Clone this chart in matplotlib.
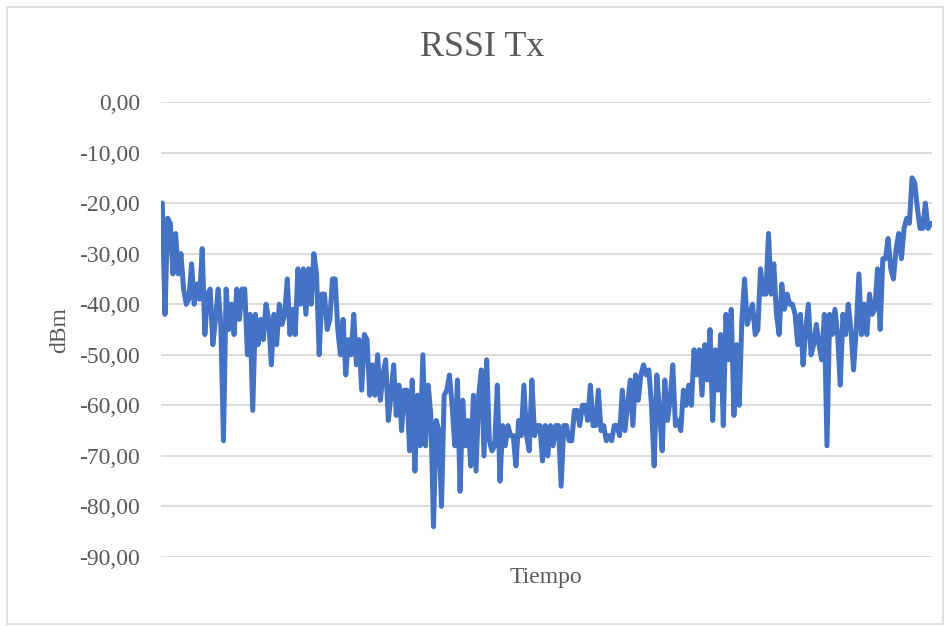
import matplotlib
matplotlib.use('Agg')
import matplotlib.pyplot as plt
from matplotlib.patches import Rectangle
from matplotlib.ticker import FuncFormatter
import numpy as np

# valores (dBm), en orden temporal
rssi_parte1 = [-20, -42, -23, -24, -34, -26, -34, -30, -37, -40, -39, -32, -40, -36,
               -39, -29, -46, -38, -37, -48, -43, -37, -44, -67, -37, -45, -40, -46,
               -37, -43, -37, -37, -50, -42, -61, -42, -48, -43, -47, -40, -43, -52, -42,
               -48, -40, -44, -42, -35, -46, -41, -46, -33, -40, -33, -42, -33, -40, -30,
               -34, -50, -38, -38, -45, -43, -35, -35, -45, -50, -43, -54, -47]
rssi_parte2 = [-50, -42, -52, -47, -57, -46, -47, -58, -52, -58, -50, -59, -54, -51, -63,
               -58, -52, -62, -56, -65, -57, -57, -69, -55, -73, -58, -68, -50, -68, -56,
               -62, -84, -63, -65, -80, -58, -57, -54, -60, -68, -55, -77, -59, -68, -63,
               -72, -58, -73, -58, -53, -70, -51, -67, -69, -68, -56, -75, -64, -68, -64,
               -66, -66, -72, -63, -66, -56, -66, -69, -55]
rssi_parte3 = [-66, -64, -64, -71, -64, -70, -64, -68, -64, -64, -76, -64, -64, -67, -67,
               -61, -61, -64, -60, -60, -63, -56, -64, -64, -57, -65, -64, -67, -66, -67,
               -64, -64, -66, -57, -65, -60, -55, -64, -54, -59, -54, -52, -54, -53, -60,
               -72, -54, -61, -69, -55, -63, -59, -52, -64, -63, -65, -57, -60, -56, -60,
               -49, -54, -49, -58, -48, -55, -45]
rssi_parte4 = [-63, -49, -57, -46, -64, -42, -51, -41, -62, -48, -60, -43, -35, -44, -42,
               -40, -46, -45, -33, -38, -38, -26, -38, -32, -42, -46, -36, -41, -38, -40,
               -40, -42, -48, -42, -52, -45, -40, -50, -48, -44, -48, -51, -42, -68, -42,
               -46, -41, -46, -56, -42, -46, -40, -45, -53, -45, -34, -46, -40, -46, -38,
               -42, -41, -33, -45, -31, -31, -27, -33, -35, -29, -26, -31, -25, -23, -24,
               -15, -16, -21, -25, -25, -20, -25, -24]

y_ticks = [0, -10, -20, -30, -40, -50, -60, -70, -80, -90]

rssi = np.array(rssi_parte1 + rssi_parte2 + rssi_parte3 + rssi_parte4, dtype=float)
tiempo = np.arange(len(rssi))

TEXTO = '#595959'
GRID = '#D9D9D9'
AZUL = '#4472C4'

plt.rcParams['font.family'] = ['Liberation Serif', 'DejaVu Serif']

W, H = 950, 626
fig = plt.figure(figsize=(W / 100, H / 100), dpi=100)
ax = fig.add_axes([161 / W, 1 - 557 / H, (932 - 161) / W, (557 - 102) / H])

ax.plot(tiempo, rssi, color=AZUL, lw=3.6, solid_joinstyle='round',
        solid_capstyle='round', zorder=3)

ax.set_xlim(-0.5, len(rssi) - 0.5)
ax.set_ylim(-90, 0)
ax.set_yticks(y_ticks)
ax.yaxis.set_major_formatter(FuncFormatter(lambda v, p: f'{v:.2f}'.replace('.', ',')))
ax.set_xticks([])
ax.grid(axis='y', color=GRID, lw=1.3, zorder=0)
ax.tick_params(axis='y', length=0, pad=15, labelsize=17, labelcolor=TEXTO)
for s in ax.spines.values():
    s.set_visible(False)
ax.set_axisbelow(True)
ax.patch.set_alpha(0)

fig.text(482 / W, 1 - 48 / H, 'RSSI Tx', ha='center', va='center',
         fontsize=26, color=TEXTO)
fig.text(546 / W, 1 - 578 / H, 'Tiempo', ha='center', va='center',
         fontsize=17, color=TEXTO)
fig.text(60 / W, 1 - 330 / H, 'dBm', ha='center', va='center', rotation=90,
         fontsize=17, color=TEXTO)

# marco exterior del grafico
fig.patches.append(Rectangle((7 / W, 1 - 624 / H), (943 - 7) / W, (624 - 7) / H,
                             transform=fig.transFigure, fill=False,
                             edgecolor=GRID, lw=1.2))

fig.savefig('out.png', dpi=100)
